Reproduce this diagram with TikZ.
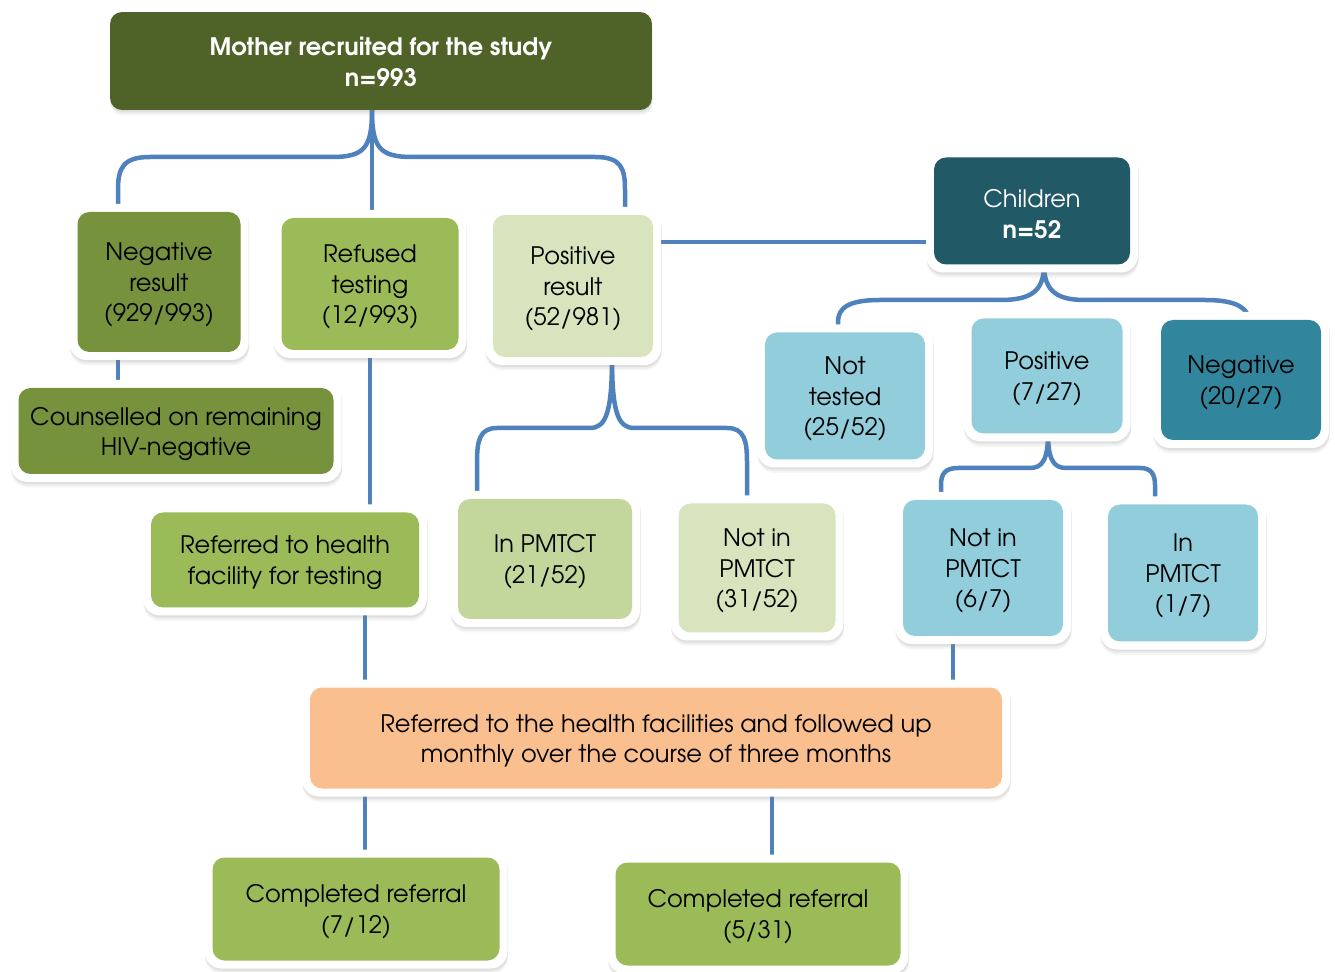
\documentclass[tikz,border=0pt]{standalone}
\usepackage{fontspec}
\setmainfont{TeX Gyre Adventor}
\usetikzlibrary{shadows,calc}
\definecolor{cMother}{HTML}{4F6228}
\definecolor{cNeg}{HTML}{76923C}
\definecolor{cRef}{HTML}{9BBB59}
\definecolor{cPosL}{HTML}{D7E4BD}
\definecolor{cPosM}{HTML}{C3D69B}
\definecolor{cChild}{HTML}{215967}
\definecolor{cBlue}{HTML}{92CDDC}
\definecolor{cTeal}{HTML}{31859C}
\definecolor{cOrange}{HTML}{FABF8F}
\definecolor{cLine}{HTML}{4F81BD}
\pgfdeclarelayer{bg}
\pgfsetlayers{bg,main}
\tikzset{
  softshadow/.style={
    drop shadow={opacity=0.07, shadow xshift=0.01cm, shadow yshift=-0.11cm},
    drop shadow={opacity=0.09, shadow xshift=0.01cm, shadow yshift=-0.075cm},
    drop shadow={opacity=0.12, shadow xshift=0.01cm, shadow yshift=-0.04cm}},
  outerbox/.style={rounded corners=0.34cm, fill=white, draw=none, inner sep=0pt, softshadow},
  innerbox/.style={rounded corners=0.24cm, draw=none, inner sep=0pt},
  txt/.style={align=center, inner sep=0pt, font=\fontsize{13.7}{17.5}\selectfont},
  conn/.style={draw=cLine, line width=0.09cm, line cap=round}
}
% #1 name, #2 x, #3 y, #4 inner w (px), #5 inner h (px), #6 fill, #7 text options, #8 text
\newcommand\mybox[8]{%
  \node[outerbox, minimum width={(#4+16)*0.02cm}, minimum height={(#5+16)*0.02cm}] (#1-o) at (#2,#3) {};
  \node[innerbox, fill=#6, minimum width={#4*0.02cm}, minimum height={#5*0.02cm}] (#1) at (#2,#3) {};
  \node[txt, #7] (#1-t) at ($(#2,#3)+(0,3)$) {#8};}
\begin{document}
\begin{tikzpicture}[x=0.02cm,y=-0.02cm]
\useasboundingbox (0,0) rectangle (1335,972);
% nodes
\node[innerbox, fill=cMother, minimum width=10.84cm, minimum height=1.96cm, softshadow] (mother) at (381,61) {};
\node[txt, text=white, font=\fontsize{13.7}{17.5}\selectfont\bfseries] (mother-t) at (381,62) {Mother recruited for the study\\n=993};
\mybox{neg}{159}{282}{163}{140}{cNeg}{}{Negative\\result\\(929/993)}
\mybox{ref}{370}{284}{177}{132}{cRef}{}{Refused\\testing\\(12/993)}
\mybox{pos}{573}{286}{160}{142}{cPosL}{}{Positive\\result\\(52/981)}
\mybox{chi}{1032}{211}{196}{107}{cChild}{text=white}{Children\\\textbf{n=52}}
\mybox{nt}{845}{396}{160}{127}{cBlue}{}{Not\\tested\\(25/52)}
\mybox{cp}{1047}{376}{151}{115}{cBlue}{}{Positive\\(7/27)}
\mybox{cn}{1241}{380}{160}{120}{cTeal}{}{Negative\\(20/27)}
\mybox{cou}{176}{431}{315}{86}{cNeg}{}{Counselled on remaining\\HIV-negative}
\mybox{rft}{285}{560}{268}{95}{cRef}{}{Referred to health\\facility for testing}
\mybox{ipm}{545}{559}{174}{120}{cPosM}{}{In PMTCT\\(21/52)}
\mybox{npm}{757}{568}{157}{129}{cPosL}{}{Not in\\PMTCT\\(31/52)}
\mybox{np2}{983}{568}{160}{136}{cBlue}{}{Not in\\PMTCT\\(6/7)}
\mybox{ip2}{1183}{573}{150}{137}{cBlue}{}{In\\PMTCT\\(1/7)}
\mybox{ora}{656}{738}{692}{101}{cOrange}{}{Referred to the health facilities and followed up\\monthly over the course of three months}
\mybox{cr1}{356}{909}{287}{103}{cRef}{}{Completed referral\\(7/12)}
\mybox{cr2}{758}{914}{285}{103}{cRef}{}{Completed referral\\(5/31)}
% connectors
\begin{pgfonlayer}{bg}
\draw[conn] (372,0 |- mother.south) .. controls (372,148) and (364,157) .. (332,157) -- (150,157)
   .. controls (123,157) and (118,168) .. (118,190) -- (118,0 |- neg.north);
\draw[conn] (372,0 |- mother.south) .. controls (372,148) and (380,157) .. (412,157) -- (595,157)
   .. controls (621,157) and (625,168) .. (625,190) -- (625,0 |- pos.north);
\draw[conn] (372,0 |- mother.south) -- (372,0 |- ref.north);
\draw[conn] (118,0 |- neg.south) -- (118,0 |- cou.north);
\draw[conn] (370,0 |- ref.south) -- (370,0 |- rft.north);
\draw[conn] (pos.east |- 0,242) -- (chi.west |- 0,242);
\draw[conn] (612,0 |- pos.south) .. controls (612,412) and (606,428) .. (590,428) -- (497,428)
   .. controls (480,428) and (477,440) .. (477,462) -- (477,0 |- ipm.north);
\draw[conn] (612,0 |- pos.south) .. controls (612,412) and (618,428) .. (634,428) -- (727,428)
   .. controls (744,428) and (747,440) .. (747,462) -- (747,0 |- npm.north);
\draw[conn] (1044,0 |- chi.south) .. controls (1044,292) and (1030,300) .. (1000,300) -- (880,300)
   .. controls (848,300) and (838,308) .. (838,322) -- (838,0 |- nt.north);
\draw[conn] (1044,0 |- chi.south) .. controls (1044,292) and (1058,300) .. (1085,300) -- (1205,300)
   .. controls (1232,300) and (1245,306) .. (1248,316) -- (1248,0 |- cn.north);
\draw[conn] (1048,0 |- cp.south) .. controls (1048,460) and (1042,468) .. (1030,468) -- (958,468)
   .. controls (945,468) and (941,474) .. (941,485) -- (941,0 |- np2.north);
\draw[conn] (1048,0 |- cp.south) .. controls (1048,460) and (1054,468) .. (1066,468) -- (1140,468)
   .. controls (1151,468) and (1155,474) .. (1155,485) -- (1155,0 |- ip2.north);
\draw[conn] (365,0 |- rft.south) -- (365,0 |- ora.north);
\draw[conn] (953,0 |- np2.south) -- (953,0 |- ora.north);
\draw[conn] (365,0 |- ora.south) -- (365,0 |- cr1.north);
\draw[conn] (772,0 |- ora.south) -- (772,0 |- cr2.north);
\end{pgfonlayer}
\end{tikzpicture}
\end{document}
